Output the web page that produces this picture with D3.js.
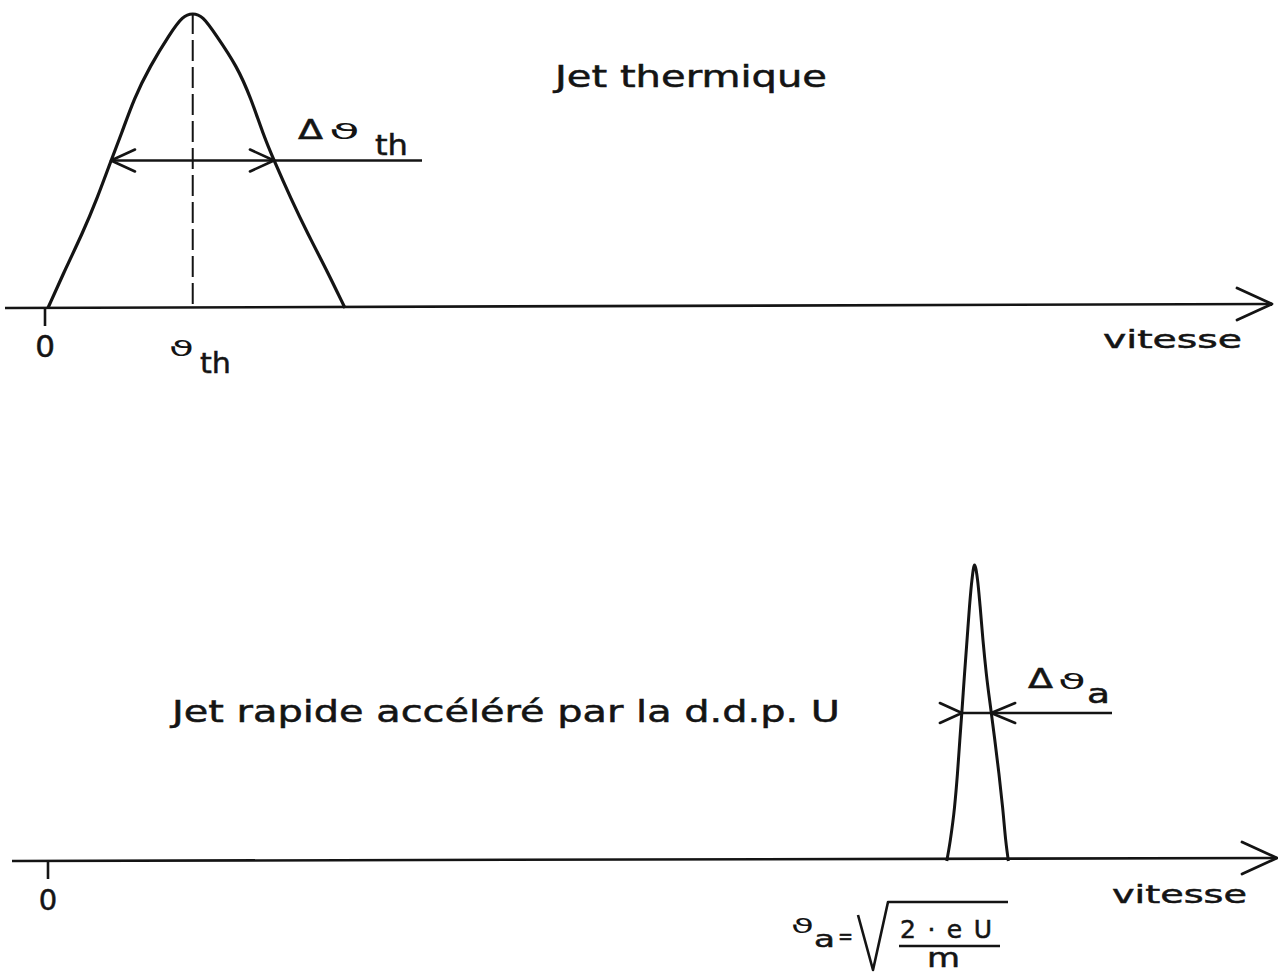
<!DOCTYPE html>
<html>
<head>
<meta charset="utf-8">
<script src="https://cdn.jsdelivr.net/npm/d3@7"></script>
<style>
  html, body { margin: 0; padding: 0; background: #fff; }
  svg text { font-family: "DejaVu Sans", sans-serif; fill: #141414; stroke: #141414; stroke-width: 0.5px; }
</style>
</head>
<body>
<svg id="fig" width="1278" height="974"></svg>
<script>
// Velocity distributions: velocity in arbitrary axis units, density normalised to its peak (= 1)
const thermalVelocity = [0.24, 1.75, 3.02, 4.24, 5.38, 6.23, 7.25, 8.56, 10.19, 11.22, 12.04, 12.85, 13.86, 15.65, 16.79, 17.77, 18.66, 20.05, 21.43, 22.82, 24.45];
const thermalDensity  = [0, 0.14, 0.25, 0.37, 0.50, 0.59, 0.71, 0.82, 0.93, 0.99, 1.0, 0.99, 0.93, 0.82, 0.71, 0.59, 0.50, 0.37, 0.25, 0.14, 0];

const fastVelocity = [73.25, 73.53, 73.88, 74.12, 74.31, 74.48, 74.70, 74.90, 75.10, 75.30, 75.51, 75.76, 75.97, 76.20, 76.47, 76.87, 77.17, 77.50, 77.80, 78.06, 78.27];
const fastDensity  = [0, 0.068, 0.181, 0.295, 0.407, 0.503, 0.634, 0.746, 0.859, 0.949, 1.0, 0.949, 0.859, 0.746, 0.634, 0.503, 0.407, 0.295, 0.181, 0.068, 0];

// Most probable velocity and half-height widths
const thermalPeak = 12.04;
const thermalHalfWidth = [5.38, 18.66];
const fastHalfWidth = [74.48, 76.87];
const halfLevel = 0.50;

// Texts
const thermalTitle = "Jet thermique";
const fastTitle = "Jet rapide accéléré par la d.d.p. U";
const axisLabel = "vitesse";
const originLabel = "0";
const vSymbol = "\u03D1";   // handwritten-style v
const deltaSymbol = "\u0394";

const svg = d3.select("#fig");
const ink = "#141414";

// Panel layout (pixels)
const panels = [
  { axisY: 308, tilt: -4, x0: 45, left: 5,  tip: 1272, top: 13 },
  { axisY: 861, tilt: -3, x0: 48, left: 12, tip: 1277, top: 565 }
];

function scalesFor(p) {
  const x = d3.scaleLinear().domain([0, 100]).range([p.x0, p.x0 + 1227]);
  const y = d3.scaleLinear().domain([0, 1]).range([p.axisY, p.top]);
  return { x, y };
}

// Velocity axis with an open arrowhead and a tick at the origin
function drawAxis(p, s) {
  const g = svg.append("g");
  const yEnd = p.axisY + p.tilt;
  g.append("line")
    .attr("x1", p.left).attr("y1", p.axisY)
    .attr("x2", p.tip).attr("y2", yEnd)
    .attr("stroke", ink).attr("stroke-width", 2.6);
  const head = d3.path();
  head.moveTo(p.tip - 35, yEnd - 16);
  head.lineTo(p.tip, yEnd);
  head.lineTo(p.tip - 35, yEnd + 16);
  g.append("path").attr("d", head.toString())
    .attr("fill", "none").attr("stroke", ink).attr("stroke-width", 2.8)
    .attr("stroke-linejoin", "round").attr("stroke-linecap", "round");
  g.append("line")
    .attr("x1", s.x(0)).attr("x2", s.x(0))
    .attr("y1", p.axisY).attr("y2", p.axisY + 18)
    .attr("stroke", ink).attr("stroke-width", 2.6);
}

function drawCurve(s, vel, dens, width, curve) {
  const pts = vel.map((v, i) => [v, dens[i]]);
  const line = d3.line()
    .x(d => s.x(d[0])).y(d => s.y(d[1]))
    .curve(curve);
  svg.append("path").attr("d", line(pts))
    .attr("fill", "none").attr("stroke", ink)
    .attr("stroke-width", width).attr("stroke-linejoin", "round");
}

function chevron(tipX, tipY, dir, len, spread) {
  // dir = -1: points left; dir = +1: points right
  const p = d3.path();
  p.moveTo(tipX - dir * len, tipY - spread);
  p.lineTo(tipX, tipY);
  p.lineTo(tipX - dir * len, tipY + spread);
  svg.append("path").attr("d", p.toString())
    .attr("fill", "none").attr("stroke", ink).attr("stroke-width", 2.6)
    .attr("stroke-linecap", "round").attr("stroke-linejoin", "round");
}

function label(x, y, txt, size, opts = {}) {
  const t = svg.append("text").attr("x", x).attr("y", y)
    .attr("font-size", size).text(txt);
  if (opts.anchor) t.attr("text-anchor", opts.anchor);
  if (opts.length) t.attr("textLength", opts.length)
    .attr("lengthAdjust", opts.adjust || "spacingAndGlyphs");
  if (opts.thin) t.style("stroke-width", "0px");
  return t;
}

// ---------- Thermal beam ----------
{
  const p = panels[0], s = scalesFor(p);
  drawAxis(p, s);
  drawCurve(s, thermalVelocity, thermalDensity, 3.2, d3.curveBasis);

  // most probable velocity
  svg.append("line")
    .attr("x1", s.x(thermalPeak)).attr("x2", s.x(thermalPeak))
    .attr("y1", s.y(1)).attr("y2", s.y(0))
    .attr("stroke", ink).attr("stroke-width", 2)
    .attr("stroke-dasharray", "21 6");

  // half-height width, outward arrows and leader line
  const yh = s.y(halfLevel);
  svg.append("line")
    .attr("x1", s.x(thermalHalfWidth[0])).attr("x2", 422)
    .attr("y1", yh).attr("y2", yh)
    .attr("stroke", ink).attr("stroke-width", 2.4);
  chevron(s.x(thermalHalfWidth[0]), yh, -1, 24, 11);
  chevron(s.x(thermalHalfWidth[1]), yh, 1, 24, 11);

  label(298, 139, deltaSymbol, 26, { length: 25 });
  label(329, 139, vSymbol, 22, { length: 31, thin: true });
  label(375, 155, "th", 29, { length: 33 });

  label(169, 356, vSymbol, 21, { length: 25, thin: true });
  label(200, 373, "th", 29, { length: 31 });

  label(s.x(0), 357, originLabel, 31, { anchor: "middle" });
  label(1103, 348, axisLabel, 25, { length: 139 });
  label(555, 87, thermalTitle, 30, { length: 272 });
}

// ---------- Accelerated beam ----------
{
  const p = panels[1], s = scalesFor(p);
  drawAxis(p, s);
  drawCurve(s, fastVelocity, fastDensity, 3, d3.curveMonotoneX);

  const yh = s.y(halfLevel);
  svg.append("line")
    .attr("x1", s.x(fastHalfWidth[0])).attr("x2", 1112)
    .attr("y1", yh).attr("y2", yh)
    .attr("stroke", ink).attr("stroke-width", 2.4);
  chevron(s.x(fastHalfWidth[0]), yh, 1, 22, 10);
  chevron(s.x(fastHalfWidth[1]), yh, -1, 24, 10);

  label(1028, 688, deltaSymbol, 26, { length: 25 });
  label(1058, 689, vSymbol, 21, { length: 28, thin: true });
  label(1087, 703, "a", 26, { length: 23 });

  label(s.x(0), 910, originLabel, 29, { anchor: "middle" });
  label(1112, 903, axisLabel, 25, { length: 135 });
  label(172, 722, fastTitle, 30, { length: 668 });

  // v_a = sqrt(2eU / m)
  label(791, 933, vSymbol, 20, { length: 23, thin: true });
  label(814, 947, "a", 23, { length: 21 });
  label(838, 944, "=", 22, { length: 15 });
  const root = d3.path();
  root.moveTo(858, 915);
  root.lineTo(873, 970);
  root.lineTo(888, 902);
  root.lineTo(1008, 902);
  svg.append("path").attr("d", root.toString())
    .attr("fill", "none").attr("stroke", ink).attr("stroke-width", 2.6)
    .attr("stroke-linejoin", "round");
  label(900, 938, "2\u00B7eU", 25, { length: 92, adjust: "spacing" });
  svg.append("line")
    .attr("x1", 899).attr("x2", 1000).attr("y1", 946).attr("y2", 946)
    .attr("stroke", ink).attr("stroke-width", 2.6);
  label(927, 967, "m", 26, { length: 33 });
}
</script>
</body>
</html>
